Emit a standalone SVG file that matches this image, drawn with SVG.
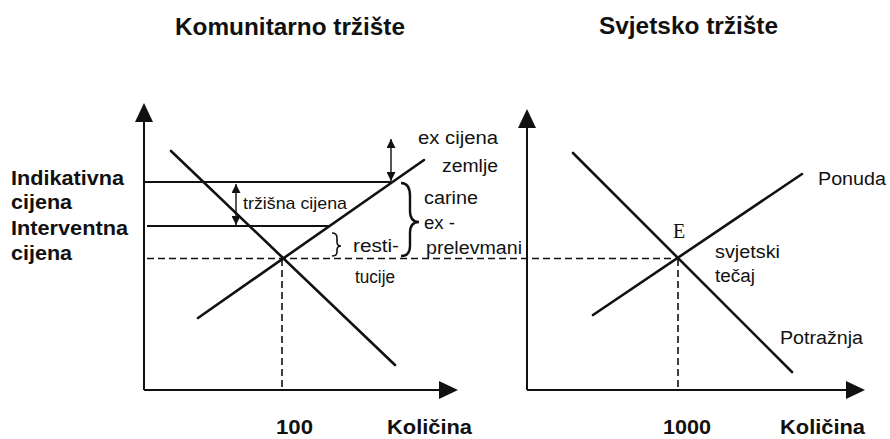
<svg xmlns="http://www.w3.org/2000/svg" width="890" height="439" viewBox="0 0 890 439">
  <defs>
    <style>
      .t { font-family: "Liberation Sans", Arial, sans-serif; fill: #111; }
      .b { font-weight: bold; }
      .ax { stroke: #111; stroke-width: 2; fill: none; }
      .crv { stroke: #111; stroke-width: 2.6; fill: none; stroke-linecap: round; }
      .hl { stroke: #111; stroke-width: 1.8; fill: none; }
      .ds { stroke: #111; stroke-width: 1.6; fill: none; stroke-dasharray: 7 4; }
      .thin { stroke: #111; stroke-width: 1.4; fill: none; }
      .head { fill: #111; }
    </style>
    <marker id="sm" viewBox="0 0 10 10" refX="10" refY="5" markerWidth="10" markerHeight="9" markerUnits="userSpaceOnUse" orient="auto-start-reverse">
      <path d="M0,0 L10,5 L0,10 z" class="head"/>
    </marker>
  </defs>
  <rect width="890" height="439" fill="#ffffff"/>

  <!-- Titles -->
  <text class="t b" x="175" y="35" font-size="24" textLength="230" lengthAdjust="spacingAndGlyphs">Komunitarno tržište</text>
  <text class="t b" x="599" y="34" font-size="24" textLength="179" lengthAdjust="spacingAndGlyphs">Svjetsko tržište</text>

  <!-- Left chart axes -->
  <g id="left-axes">
    <line class="ax" x1="144" y1="118" x2="144" y2="390"/>
    <polygon class="head" points="144,103 135,122 153,122"/>
    <line class="ax" x1="144" y1="390" x2="442" y2="390"/>
    <polygon class="head" points="458,390 439,381 439,399"/>
  </g>

  <!-- Right chart axes -->
  <g id="right-axes">
    <line class="ax" x1="527" y1="124" x2="527" y2="390"/>
    <polygon class="head" points="527,109 518,128 536,128"/>
    <line class="ax" x1="527" y1="390" x2="850" y2="390"/>
    <polygon class="head" points="865,390 846,381 846,399"/>
  </g>

  <g id="connectors">
    <!-- left market curves -->
    <line class="crv" x1="171" y1="151" x2="395" y2="365"/>
    <line class="crv" x1="198" y1="318" x2="424" y2="160"/>
    <!-- price levels -->
    <line class="hl" x1="144" y1="182" x2="391" y2="182"/>
    <line class="hl" x1="147" y1="226" x2="330" y2="226"/>
    <line class="ds" x1="147" y1="258.5" x2="678" y2="258.5"/>
    <line class="ds" x1="282" y1="259" x2="282" y2="389"/>
    <!-- double arrows -->
    <line class="thin" x1="391" y1="139" x2="391" y2="181" marker-start="url(#sm)" marker-end="url(#sm)"/>
    <line class="thin" x1="236" y1="184" x2="236" y2="225" marker-start="url(#sm)" marker-end="url(#sm)"/>
    <!-- braces -->
    <path d="M401,183 C408,183 410,188 410,196 L410,211 C410,218 413,222 419,222 C413,222 410,226 410,233 L410,246 C410,253 407,256 401,256" stroke="#111" stroke-width="2.4" fill="none"/>
    <path d="M332,233 C336,233 337,235 337,238 L337,242 C337,244 338,246 341,246 C338,246 337,248 337,250 L337,252 C337,255 335,256 332,256" stroke="#111" stroke-width="1.6" fill="none"/>
    <!-- right market curves -->
    <line class="crv" x1="573" y1="153" x2="792" y2="372"/>
    <line class="crv" x1="593" y1="315" x2="802" y2="174"/>
    <line class="ds" x1="678" y1="259" x2="678" y2="389"/>
  </g>

  <!-- Left labels -->
  <g id="price-labels">
    <text class="t b" x="11" y="185" font-size="20" textLength="113" lengthAdjust="spacingAndGlyphs">Indikativna</text>
    <text class="t b" x="11" y="209" font-size="20" textLength="61" lengthAdjust="spacingAndGlyphs">cijena</text>
    <text class="t b" x="11" y="235" font-size="20" textLength="117" lengthAdjust="spacingAndGlyphs">Interventna</text>
    <text class="t b" x="11" y="260" font-size="20" textLength="61" lengthAdjust="spacingAndGlyphs">cijena</text>
  </g>

  <g id="left-annotations">
    <text class="t" x="243" y="209" font-size="17" textLength="104" lengthAdjust="spacingAndGlyphs">tržišna cijena</text>
    <text class="t" x="418" y="144" font-size="18" textLength="80" lengthAdjust="spacingAndGlyphs">ex cijena</text>
    <text class="t" x="442" y="172" font-size="18" textLength="56" lengthAdjust="spacingAndGlyphs">zemlje</text>
    <text class="t" x="424" y="204" font-size="18" textLength="54" lengthAdjust="spacingAndGlyphs">carine</text>
    <text class="t" x="424" y="229" font-size="18" textLength="31" lengthAdjust="spacingAndGlyphs">ex -</text>
    <text class="t" x="426" y="254" font-size="18" textLength="96" lengthAdjust="spacingAndGlyphs">prelevmani</text>
    <text class="t" x="353" y="252" font-size="18" textLength="46" lengthAdjust="spacingAndGlyphs">resti-</text>
    <text class="t" x="355" y="283" font-size="18" textLength="40" lengthAdjust="spacingAndGlyphs">tucije</text>
  </g>

  <g id="right-annotations">
    <text class="t" x="818" y="185" font-size="18" textLength="68" lengthAdjust="spacingAndGlyphs">Ponuda</text>
    <text x="673" y="238" font-size="20" font-family="'Liberation Serif', 'Times New Roman', serif" fill="#111">E</text>
    <text class="t" x="715" y="258" font-size="18" textLength="65" lengthAdjust="spacingAndGlyphs">svjetski</text>
    <text class="t" x="715" y="282" font-size="18" textLength="40" lengthAdjust="spacingAndGlyphs">tečaj</text>
    <text class="t" x="780" y="344" font-size="18" textLength="83" lengthAdjust="spacingAndGlyphs">Potražnja</text>
  </g>

  <!-- Axis labels -->
  <g id="axis-labels">
    <text class="t b" x="276" y="434" font-size="20" textLength="37" lengthAdjust="spacingAndGlyphs">100</text>
    <text class="t b" x="387" y="434" font-size="20" textLength="85" lengthAdjust="spacingAndGlyphs">Količina</text>
    <text class="t b" x="663" y="434" font-size="20" textLength="48" lengthAdjust="spacingAndGlyphs">1000</text>
    <text class="t b" x="780" y="434" font-size="20" textLength="85" lengthAdjust="spacingAndGlyphs">Količina</text>
  </g>
</svg>
